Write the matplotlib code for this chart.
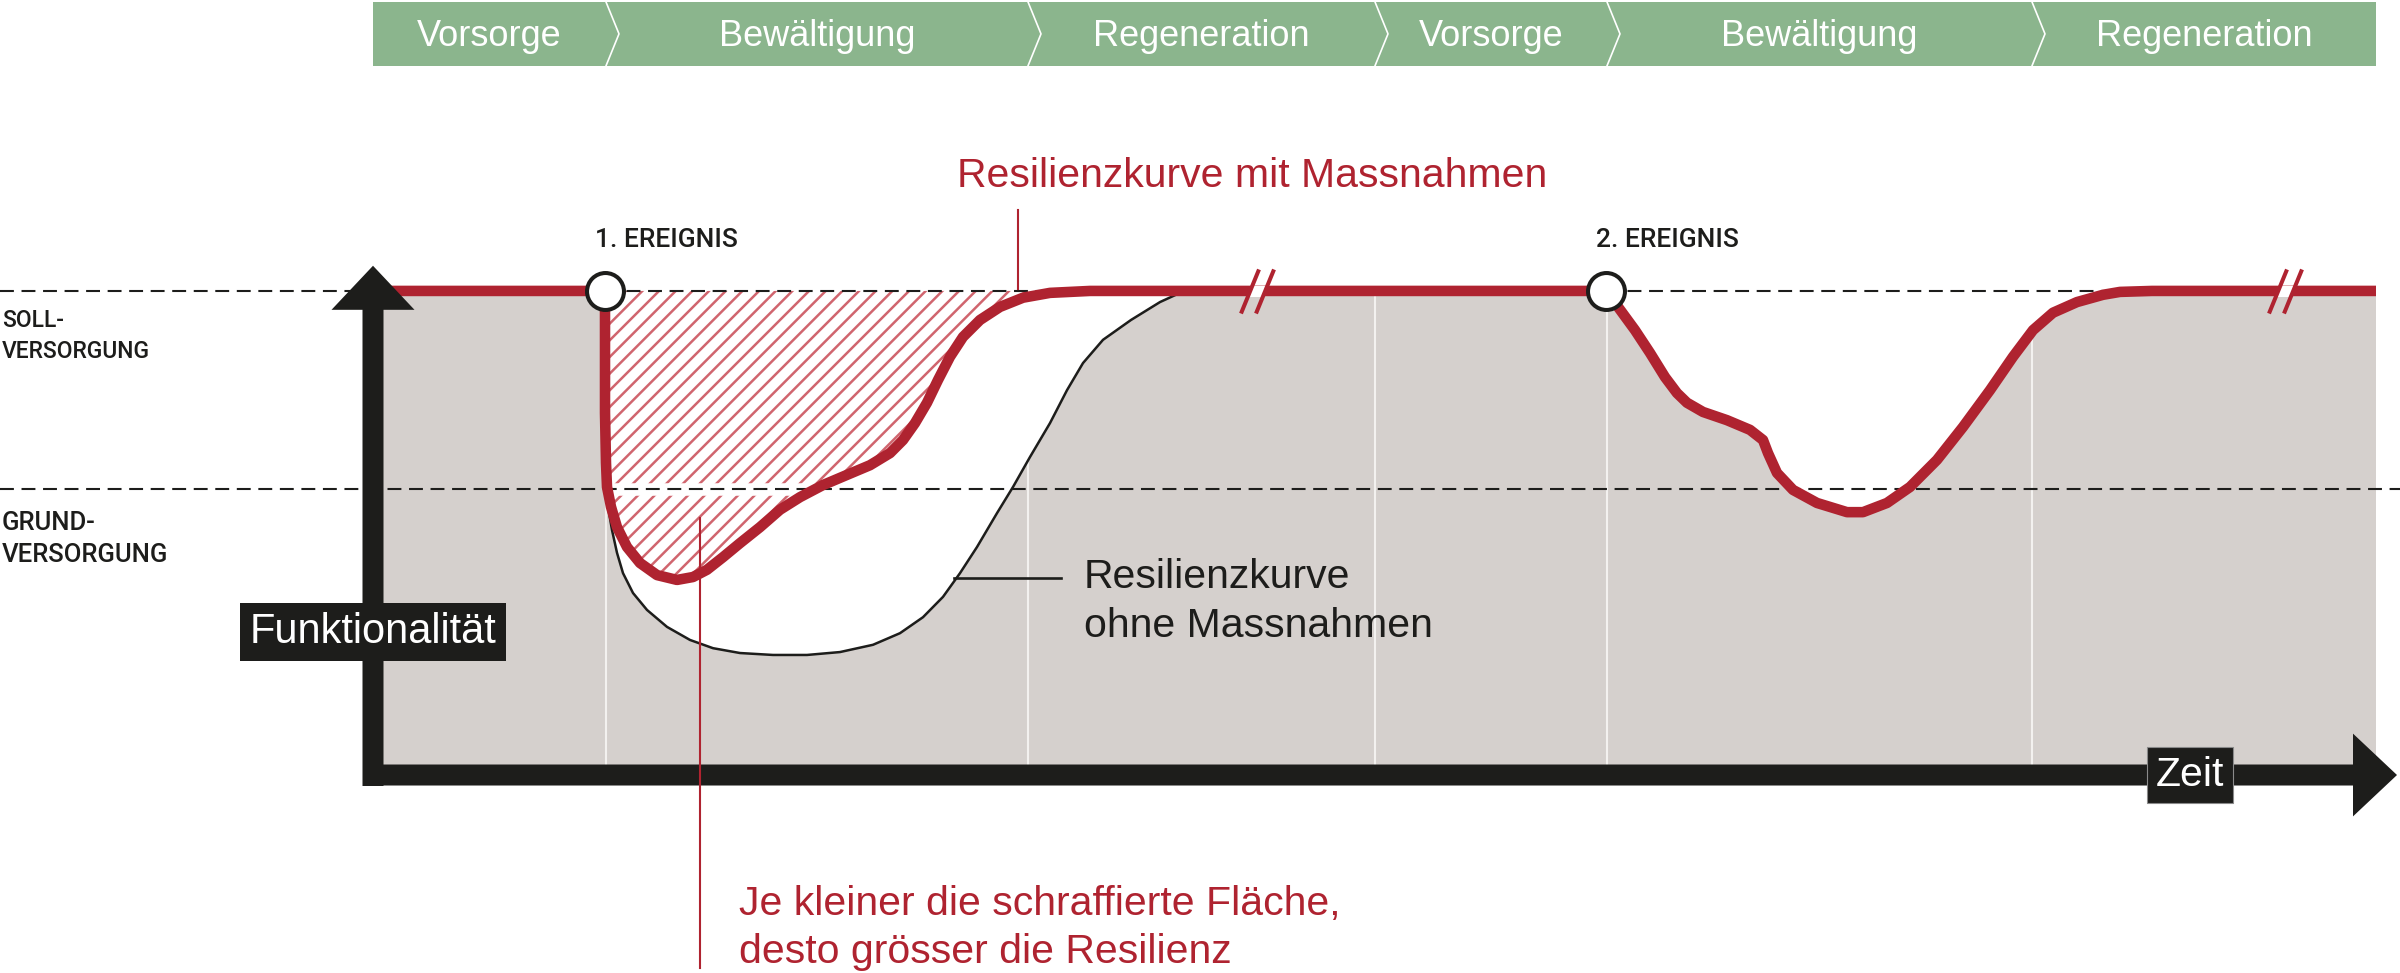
import numpy as np
import matplotlib.pyplot as plt
from matplotlib.path import Path

plt.rcParams['font.family'] = ['Liberation Sans', 'DejaVu Sans']
plt.rcParams['lines.scale_dashes'] = False
plt.rcParams['hatch.linewidth'] = 1.8

# Zeitachse in willkürlichen Einheiten (0 = Ursprung, 100 = rechter Rand)
# Funktionalität: 0 = Zeitachse, 100 = Soll-Versorgung
phase_labels = ['Vorsorge', 'Bewältigung', 'Regeneration',
                'Vorsorge', 'Bewältigung', 'Regeneration']
phase_start = [0, 11.65, 32.75, 50.1, 61.7, 82.95]
phase_end = [11.65, 32.75, 50.1, 61.7, 82.95, 100.15]

soll = 100
grund = 59

events_t = [11.6, 61.65]
event_labels = ['1. EREIGNIS', '2. EREIGNIS']
breaks_t = [44.2, 95.6]

# Resilienzkurve mit Massnahmen (rot)
red_t = [0, 11.6, 11.6, 11.6, 11.65, 11.7, 11.9, 12.2, 12.7, 13.35, 14.2, 15.2,
         16.0, 16.7, 17.5, 18.35, 19.35, 20.35, 21.35, 22.5, 23.7, 24.85, 25.85,
         26.5, 27.1, 27.7, 28.25, 28.85, 29.5, 30.35, 31.35, 32.5, 33.85, 35.85,
         61.65, 62.25, 63.1, 63.85, 64.6, 65.2, 65.7, 66.5, 67.7, 68.85, 69.5,
         69.75, 70.2, 71.0, 72.2, 73.7, 74.5, 75.7, 76.85, 78.2, 79.5, 80.85,
         82.0, 83.0, 84.0, 85.2, 86.5, 87.35, 88.95, 100.15]
red_f = [100, 100, 96.1, 74.8, 64.5, 59.5, 55.4, 51.2, 47.1, 43.8, 41.3, 40.3,
         40.9, 42.4, 45.0, 47.9, 51.2, 54.8, 57.4, 59.9, 62.0, 64.0, 66.5,
         69.2, 72.7, 76.9, 81.6, 86.4, 90.5, 94.0, 96.7, 98.6, 99.6, 100,
         100, 96.7, 91.9, 87.2, 82.2, 78.9, 76.9, 75.0, 73.3, 71.3, 69.2,
         66.5, 62.4, 58.9, 56.2, 54.3, 54.3, 56.2, 59.5, 65.1, 71.9, 79.5,
         86.4, 91.9, 95.5, 97.7, 99.2, 99.8, 100, 100]

# Resilienzkurve ohne Massnahmen (schwarz)
blk_t = [11.6, 11.6, 11.65, 11.7, 11.75, 11.95, 12.2, 12.5, 13.0, 13.7, 14.7,
         15.85, 17.0, 18.35, 20.0, 21.7, 23.35, 25.0, 26.35, 27.5, 28.5, 29.35,
         30.2, 31.2, 32.0, 32.85, 33.85, 34.7, 35.5, 36.5, 37.9, 39.35, 40.35,
         41.35]
blk_f = [100, 74.8, 64.5, 59.5, 55.4, 50.6, 45.9, 41.7, 37.6, 34.1, 30.6,
         27.9, 26.2, 25.2, 24.8, 24.8, 25.4, 26.9, 29.3, 32.6, 36.8, 41.7,
         47.1, 54.1, 59.5, 65.7, 72.7, 79.5, 85.1, 89.9, 94.0, 97.7, 99.6,
         100]

RED = '#af2330'
HATCH = '#d0656e'
GRAY = '#d5d0cd'
GREEN = '#8bb58d'
BLACK = '#1d1d1b'

red_t = np.array(red_t)
red_f = np.array(red_f)
blk_t = np.array(blk_t)
blk_f = np.array(blk_f)

fig = plt.figure(figsize=(24, 9.73), dpi=100)
ax = fig.add_axes([0, 0, 1, 1])
xmin, xmax = -18.65, 101.35
ymin, ymax = -40.9, 160.1
ax.set_xlim(xmin, xmax)
ax.set_ylim(ymin, ymax)
ax.axis('off')

# Phasenband oben
widths = np.array(phase_end) - np.array(phase_start)
ax.bar(phase_start, 13.2, width=widths, bottom=146.5, align='edge',
       color=GREEN, lw=0, zorder=1)
for s, e, lab in zip(phase_start, phase_end, phase_labels):
    ax.text((s + e) / 2, 150.5, lab, ha='center', va='baseline',
            color='white', fontsize=26, zorder=2)
for b in phase_start[1:]:
    ax.plot([b, b + 0.65, b], [159.7, 153.1, 146.5], color='white', lw=1.2,
            zorder=2)

# graue Fläche unter den Kurven
pre = red_t < blk_t[0]
post = red_t > blk_t[-1]
gray_t = np.concatenate([red_t[pre], blk_t, red_t[post], [red_t[-1], red_t[0]]])
gray_f = np.concatenate([red_f[pre], blk_f, red_f[post], [0, 0]])
gray = ax.fill(gray_t, gray_f, color=GRAY, lw=0, zorder=1)[0]

for b in phase_start[1:]:
    ln = ax.axvline(b, color='#f3f1ef', lw=1.5, zorder=1.5)
    ln.set_clip_path(gray)


def recovery(t0):
    after = np.where((red_t > t0) & (red_f >= soll))[0]
    return red_t[after[0]]


# schraffierte Fläche
m = (red_t >= events_t[0]) & (red_t <= recovery(events_t[0]))
hatch = ax.fill(red_t[m], red_f[m], facecolor='none', edgecolor=HATCH,
                hatch='//', lw=0, zorder=2)[0]
gap_ln = ax.axhline(grund, color='white', lw=9, zorder=2.5)
gap_ln.set_clip_path(hatch)

# gestrichelte Linien
ax.axhline(grund, color=BLACK, lw=1.5, dashes=(10, 5.5), zorder=3)
ax.plot([xmin, 0], [soll, soll], color=BLACK, lw=1.5, dashes=(10, 5.5), zorder=3)
for t0 in events_t:
    ax.plot([t0, recovery(t0)], [soll, soll], color=BLACK, lw=1.5,
            dashes=(10, 5.5), zorder=3)

# Kurven
ax.plot(blk_t, blk_f, color=BLACK, lw=1.8, zorder=3.5, solid_joinstyle='round')
ax.plot(red_t, red_f, color=RED, lw=7.6, zorder=4, solid_joinstyle='round',
        solid_capstyle='butt')

# Unterbrechungszeichen //
gap = Path([(-9.55, -5.5), (5.45, -5.5), (9.55, 5.5), (-5.45, 5.5), (-9.55, -5.5)],
           closed=True)
slashes = Path([(-16.5, -22), (1.5, 22), (-1.5, -22), (16.5, 22)],
               [Path.MOVETO, Path.LINETO, Path.MOVETO, Path.LINETO])
ax.plot(breaks_t, [soll] * len(breaks_t), ls='none', marker=gap, ms=13.75,
        mfc='white', mec='none', zorder=4.5)
ax.plot(breaks_t, [soll] * len(breaks_t), ls='none', marker=slashes, ms=31.7,
        mfc='none', mec=RED, mew=2.9, zorder=4.6)

# Ereignisse
ax.plot(events_t, [soll] * len(events_t), 'o', ms=26.6, mfc='white', mec=BLACK,
        mew=2.9, zorder=5)
for t0, lab in zip(events_t, event_labels):
    ax.text(t0 - 0.5, 109.1, lab, ha='left', va='baseline', color=BLACK,
            fontsize=19, family=['Roboto', 'Liberation Sans'], fontweight='medium')

# Achsen
ax.arrow(0, -2.27, 0, 107.47, width=1.05, head_width=4.15, head_length=9.1,
         length_includes_head=True, fc=BLACK, ec='none', zorder=6)
ax.arrow(-0.5, 0, 101.7, 0, width=4.34, head_width=17.1, head_length=2.2,
         length_includes_head=True, fc=BLACK, ec='none', zorder=6)

ax.text(0, 29.6, 'Funktionalität', ha='center', va='center', color='white',
        fontsize=30, zorder=7,
        bbox=dict(boxstyle='square,pad=0.22', fc=BLACK, ec='none'))
ax.text(90.85, 0, 'Zeit', ha='center', va='center', color='white',
        fontsize=29.5, zorder=7,
        bbox=dict(boxstyle='square,pad=0.22', fc=BLACK, ec='#8a8a8a', lw=0.8))

# Beschriftungen links
side = dict(ha='left', va='baseline', color=BLACK,
            family=['Roboto', 'Liberation Sans'], fontweight='medium')
ax.text(xmin + 0.1, 92.6, 'SOLL-', fontsize=16.5, **side)
ax.text(xmin + 0.1, 86.2, 'VERSORGUNG', fontsize=16.5, **side)
ax.text(xmin + 0.1, 50.6, 'GRUND-', fontsize=18.5, **side)
ax.text(xmin + 0.1, 44.0, 'VERSORGUNG', fontsize=18.5, **side)

# Erläuterungen
ax.text(29.2, 121.5, 'Resilienzkurve mit Massnahmen', color=RED, fontsize=29.5,
        ha='left', va='baseline')
ax.plot([32.25, 32.25], [116.7, 100.4], color=RED, lw=1.5, zorder=3)

ax.text(35.55, 38.6, 'Resilienzkurve', color=BLACK, fontsize=29.5,
        ha='left', va='baseline')
ax.text(35.55, 28.5, 'ohne Massnahmen', color=BLACK, fontsize=29.5,
        ha='left', va='baseline')
ax.plot([29.05, 34.4], [40.7, 40.7], color=BLACK, lw=1.9, zorder=3)

ax.text(18.3, -28.9, 'Je kleiner die schraffierte Fläche,', color=RED,
        fontsize=29.5, ha='left', va='baseline')
ax.text(18.3, -38.8, 'desto grösser die Resilienz', color=RED,
        fontsize=29.5, ha='left', va='baseline')
ax.plot([16.35, 16.35], [53.1, -39.9], color=RED, lw=1.5, zorder=6.5)

fig.savefig('out.png', dpi=100)
